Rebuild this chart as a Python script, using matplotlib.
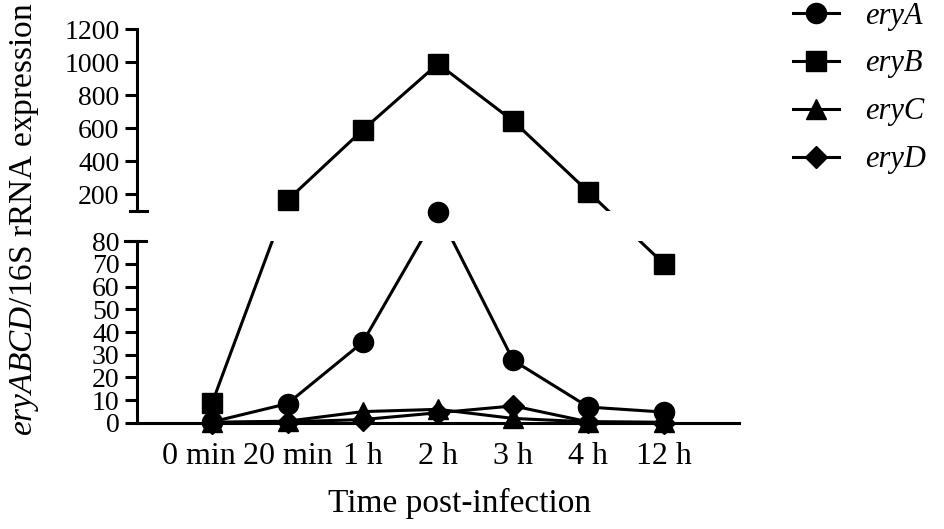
import numpy as np
import matplotlib
matplotlib.use('Agg')
from matplotlib import pyplot as plt
from matplotlib.lines import Line2D
from matplotlib.transforms import ScaledTranslation

plt.rcParams['font.family'] = 'Liberation Serif'
plt.rcParams['mathtext.fontset'] = 'custom'
plt.rcParams['mathtext.rm'] = 'Liberation Serif'
plt.rcParams['mathtext.it'] = 'Liberation Serif:italic'

times = ['0 min', '20 min', '1 h', '2 h', '3 h', '4 h', '12 h']
eryA = [0.5, 8.5, 35.5, 99.5, 27.5, 7, 4.8]
eryB = [9, 166, 590, 990, 644, 215, 70]
eryC = [0.3, 0.8, 5, 6, 2, 0.5, 0.3]
eryD = [0.2, 0.5, 1.5, 4.5, 7.5, 0.5, 0.2]
genes = ['eryA', 'eryB', 'eryC', 'eryD']
markers = ['o', 's', '^', 'D']
msizes = [14.5, 14, 14, 11.5]

low_ticks = [0, 10, 20, 30, 40, 50, 60, 70, 80]
high_ticks = [200, 400, 600, 800, 1000, 1200]

# broken axis: 0-80 and 100-1200 get the same height, gap between them
brk_v = [0, 80, 100, 1200]
brk_u = [0, 182, 212, 394]
def fwd(v):
    return np.interp(v, brk_v, brk_u)
def inv(u):
    return np.interp(u, brk_u, brk_v)

fig = plt.figure(figsize=(9.45, 5.29), dpi=100)
ax_lo = fig.add_axes([0.1450, 0.2004, 0.6370, 0.3440])
ax_hi = fig.add_axes([0.1450, 0.6011, 0.6370, 0.3440])

x = np.arange(len(times))
series = [eryA, eryB, eryC, eryD]
lw = 2.2
for ax in (ax_lo, ax_hi):
    ax.patch.set_visible(False)
    ax.set_yscale('function', functions=(fwd, inv))
    for vals in series:
        ax.plot(x, vals, color='black', lw=lw, zorder=3)
    for sp in ['top', 'right']:
        ax.spines[sp].set_visible(False)
    ax.spines['left'].set_linewidth(lw)
    ax.spines['bottom'].set_linewidth(lw)
    ax.tick_params(axis='y', length=8.6, width=lw, labelsize=20, pad=4)
    ax.set_xlim(-1, 7)

for vals, m, ms in zip(series, markers, msizes):
    v = np.array(vals, dtype=float)
    lo = v <= 100
    ax_lo.plot(x[lo], v[lo], ls='none', marker=m, ms=ms, color='black',
               clip_on=False, zorder=4)
    ax_hi.plot(x[~lo], v[~lo], ls='none', marker=m, ms=ms, color='black',
               clip_on=False, zorder=4)

ax_lo.set_ylim(0, 80)
ax_lo.set_yticks(low_ticks)
ax_lo.set_yticklabels([str(t) for t in low_ticks])
ax_lo.set_xticks(x)
ax_lo.set_xticklabels(times)
ax_lo.tick_params(axis='x', length=0, labelsize=23, pad=14)
# first label sits a bit left of its point in the original
lab0 = ax_lo.get_xticklabels()[0]
lab0.set_transform(lab0.get_transform() + ScaledTranslation(-13 / 100, 0, fig.dpi_scale_trans))
ax_lo.set_xlabel('Time post-infection', fontsize=24, labelpad=12)
ax_lo.xaxis.label.set_x(0.535)

ax_hi.set_ylim(100, 1200)
ax_hi.set_yticks(high_ticks)
ax_hi.set_yticklabels([str(t) for t in high_ticks])
ax_hi.spines['bottom'].set_visible(False)
ax_hi.set_xticks([])

# break marks
ax_lo.plot([-0.02, 0.015], [1, 1], transform=ax_lo.transAxes, color='black',
           lw=lw, clip_on=False)
ax_hi.plot([-0.012, 0.016], [0, 0], transform=ax_hi.transAxes, color='black',
           lw=lw, clip_on=False)

fig.text(0.026, 0.585, r'$\mathit{eryABCD}$/16S rRNA expression', rotation=90,
         ha='center', va='center', fontsize=24)

handles = [Line2D([], [], color='black', lw=lw, marker=m, ms=ms)
           for m, ms in zip(markers, msizes)]
fig.legend(handles, genes, loc='upper left', bbox_to_anchor=(0.838, 1.0),
           frameon=False, prop=dict(family='Liberation Serif', style='italic', size=22),
           handlelength=1.5, handletextpad=0.85, labelspacing=0.62,
           borderaxespad=0, borderpad=0.05)

fig.savefig('out.png', dpi=100)
